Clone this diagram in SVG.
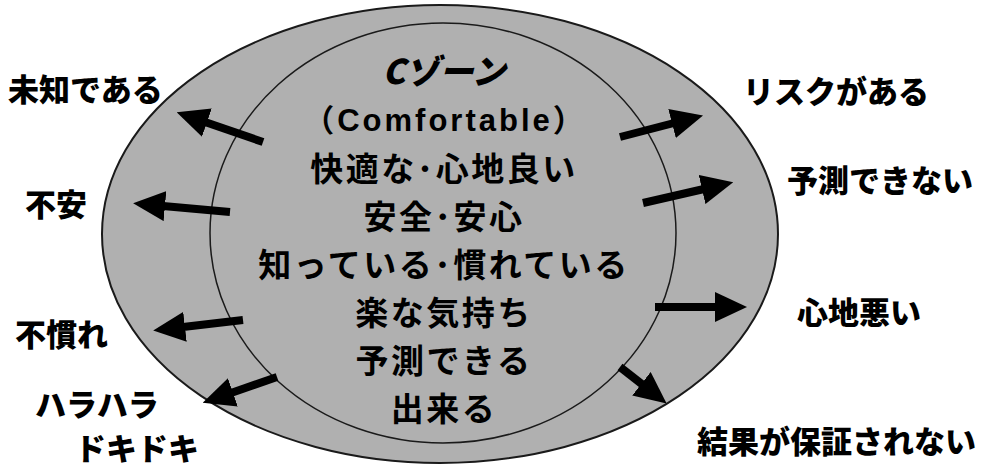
<svg xmlns="http://www.w3.org/2000/svg" width="996" height="468" viewBox="0 0 996 468">
<style>
.zone{fill:#b0b0b0;stroke:#1a1a1a;stroke-width:2}
.inner{fill:#b0b0b0;stroke:#1a1a1a;stroke-width:1.5}
text{font-family:"Noto Sans CJK JP","Noto Sans CJK SC",sans-serif;fill:#000;dominant-baseline:central}
.c{font-size:33px;font-weight:700;text-anchor:middle;letter-spacing:2.5px}
.lab{font-size:31px;font-weight:900}
.arr{stroke:#000;stroke-width:8;fill:none;marker-end:url(#ah)}
</style>
<defs>
<marker id="ah" markerUnits="userSpaceOnUse" markerWidth="32" markerHeight="30" viewBox="0 0 32 30" refX="2" refY="15" orient="auto">
<path d="M0,0 L32,15 L0,30 z" fill="#000"/>
</marker>
</defs>
<rect width="996" height="468" fill="#fff"/>
<g id="outer-zone"><ellipse class="zone" cx="440" cy="234" rx="338" ry="229"/></g>
<g id="c-zone">
<ellipse class="inner" cx="443" cy="233" rx="233" ry="210"/>
<text class="c" x="444" y="69" style="font-style:italic;font-size:34px;font-weight:900;letter-spacing:0">Cゾーン</text>
<text class="c" x="445" y="120" style="font-size:31px;letter-spacing:3px;font-family:'Liberation Sans','Noto Sans CJK JP',sans-serif">（Comfortable）</text>
<text class="c" x="444" y="167">快適な･心地良い</text>
<text class="c" x="444" y="215">安全･安心</text>
<text class="c" x="444" y="263">知っている･慣れている</text>
<text class="c" x="444" y="311">楽な気持ち</text>
<text class="c" x="444" y="359">予測できる</text>
<text class="c" x="444" y="407">出来る</text>
</g>
<g id="connectors">
<line class="arr" x1="263" y1="142" x2="205" y2="122"/>
<line class="arr" x1="230" y1="212" x2="163" y2="206"/>
<line class="arr" x1="243" y1="320" x2="183" y2="327"/>
<line class="arr" x1="277" y1="377" x2="231" y2="393"/>
<line class="arr" x1="620" y1="137" x2="674" y2="123"/>
<line class="arr" x1="643" y1="203" x2="704" y2="189"/>
<line class="arr" x1="655" y1="307" x2="717" y2="307"/>
<line class="arr" x1="620" y1="367" x2="643" y2="385"/>
</g>
<g id="label-michi"><text class="lab" x="8" y="87">未知である</text></g>
<g id="label-fuan"><text class="lab" x="25" y="202">不安</text></g>
<g id="label-funare"><text class="lab" x="15" y="332">不慣れ</text></g>
<g id="label-harahara"><text class="lab" x="35" y="402">ハラハラ</text><text class="lab" x="75" y="446">ドキドキ</text></g>
<g id="label-risk"><text class="lab" x="743" y="89">リスクがある</text></g>
<g id="label-yosoku"><text class="lab" x="787" y="178">予測できない</text></g>
<g id="label-kokochi"><text class="lab" x="797" y="310">心地悪い</text></g>
<g id="label-kekka"><text class="lab" x="697" y="439">結果が保証されない</text></g>
</svg>
